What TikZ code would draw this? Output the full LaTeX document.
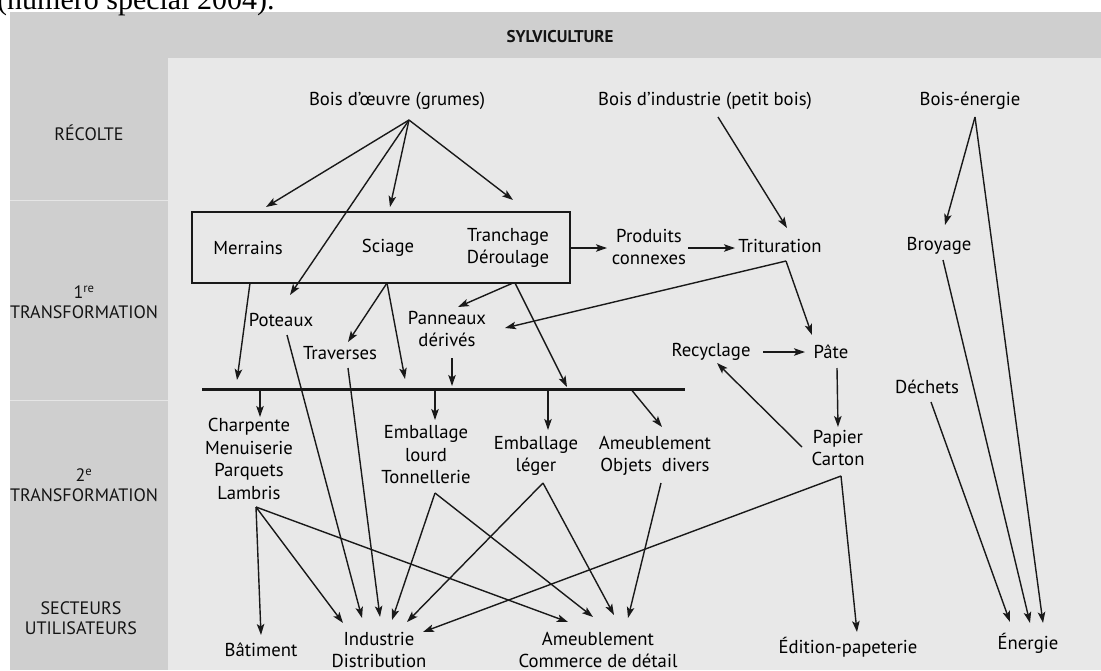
\documentclass[tikz,border=0pt]{standalone}
\usepackage{fontspec}
\setmainfont{PT Sans}
\newfontfamily\captfont{Liberation Serif}
\usetikzlibrary{arrows.meta}
\tikzset{
  txt/.style={font=\fontsize{18.7}{22.5}\selectfont, align=center, inner sep=1pt, text=black},
  lab/.style={font=\fontsize{18}{20}\selectfont, align=center, inner sep=1pt, text=black!92},
  arr/.style={-{Stealth[length=11pt,width=7.5pt,inset=2.5pt]}, line width=1.4pt, draw=black!90},
  band/.style={fill=black!19, draw=none},
}
\begin{document}
\begin{tikzpicture}[x=1pt,y=-1pt]
\useasboundingbox (0,0) rectangle (1101,670);
\clip (0,0) rectangle (1101,670);
% background
\fill[white] (0,0) rectangle (1101,670);
\fill[black!9] (10,12) rectangle (1101,670);
\fill[band] (10,12) rectangle (1101,58);
\fill[band] (10,58) rectangle (168,670);
\draw[black!10, line width=1pt] (10,200) -- (168,200);
\draw[black!10, line width=1pt] (10,400) -- (168,400);
% caption fragment
\node[anchor=base west, inner sep=0, font=\captfont\fontsize{30}{30}\selectfont] (capt) at (-3,9) {(numéro spécial 2004).};
% headers
\node[lab, font=\bfseries\fontsize{17}{20}\selectfont] (sylv) at (560,37) {SYLVICULTURE};
\node[lab] (recolte) at (89,133) {RÉCOLTE};
\node[lab] (t1) at (84,302) {1\textsuperscript{re}\\TRANSFORMATION};
\node[lab] (t2) at (84,485) {2\textsuperscript{e}\\TRANSFORMATION};
\node[lab] (secteurs) at (81,618) {SECTEURS\\UTILISATEURS};
% top sources
\node[txt] (boeuvre) at (397,101) {Bois d’œuvre (grumes)};
\node[txt] (bind) at (705,101) {Bois d’industrie (petit bois)};
\node[txt] (benergie) at (970,101) {Bois-énergie};
% box
\node[draw=black!90, line width=2.8pt, minimum width=378pt, minimum height=71pt, inner sep=0] (box) at (381,247.5) {};
\node[txt] (merrains) at (248,248) {Merrains};
\node[txt] (sciage) at (388,248) {Sciage};
\node[txt] (tranchage) at (508,248) {Tranchage\\Déroulage};
\node[txt] (produits) at (649,247) {Produits\\connexes};
\node[txt] (trituration) at (780,246) {Trituration};
\node[txt] (broyage) at (939,246) {Broyage};
\node[txt] (poteaux) at (281,320) {Poteaux};
\node[txt] (traverses) at (340,353) {Traverses};
\node[txt] (panneaux) at (447,329) {Panneaux\\dérivés};
\node[fill=black!90, minimum width=483pt, minimum height=3pt, inner sep=0] (bar) at (443.5,389) {};
\node[txt] (recyclage) at (711,352) {Recyclage};
\node[txt] (pate) at (831,352) {Pâte};
\node[txt] (dechets) at (927,387) {Déchets};
\node[txt] (charpente) at (249,459) {Charpente\\Menuiserie\\Parquets\\Lambris};
\node[txt] (emblourd) at (426,455) {Emballage\\lourd\\Tonnellerie};
\node[txt] (embleger) at (536,456) {Emballage\\léger};
\node[txt] (ameub) at (655,456) {Ameublement\\Objets\ \ divers};
\node[txt] (papier) at (838,448) {Papier\\Carton};
\node[txt] (batiment) at (261,650) {Bâtiment};
\node[txt] (industrie) at (379,650) {Industrie\\Distribution};
\node[txt] (ameubcom) at (598,650) {Ameublement\\Commerce de détail};
\node[txt] (edition) at (848,647) {Édition-papeterie};
\node[txt] (energie) at (1028,643) {Énergie};
% arrows
\draw[arr] ([shift={(12,19)}]boeuvre.center) -- ([shift={(-115,-40.5)}]box.center);
\draw[arr] ([shift={(12,19)}]boeuvre.center) -- ([shift={(9,-40.5)}]box.center);
\draw[arr] ([shift={(12,19)}]boeuvre.center) -- ([shift={(132,-47.5)}]box.center);
\draw[arr] ([shift={(12,19)}]boeuvre.center) -- ([shift={(9,-25)}]poteaux.center);
\draw[arr] ([shift={(-131,35.5)}]box.center) -- ([shift={(-206.5,-9)}]bar.center);
\draw[arr] ([shift={(6,35.5)}]box.center) -- ([shift={(8,-11)}]traverses.center);
\draw[arr] ([shift={(6,35.5)}]box.center) -- ([shift={(-38.5,-10)}]bar.center);
\draw[arr] ([shift={(132,35.5)}]box.center) -- ([shift={(11,-22)}]panneaux.center);
\draw[arr] ([shift={(134,35.5)}]box.center) -- ([shift={(123.5,-2)}]bar.center);
\draw[arr] ([shift={(190,0.5)}]box.center) -- ([shift={(-42,1)}]produits.center);
\draw[arr] ([shift={(39,1)}]produits.center) -- ([shift={(-45,2)}]trituration.center);
\draw[arr] ([shift={(13,16)}]bind.center) -- ([shift={(7,-18)}]trituration.center);
\draw[arr] ([shift={(6,15)}]trituration.center) -- ([shift={(58,-1)}]panneaux.center);
\draw[arr] ([shift={(6,15)}]trituration.center) -- ([shift={(-19,-17)}]pate.center);
\draw[arr] ([shift={(5,16)}]benergie.center) -- ([shift={(6,-21)}]broyage.center);
\draw[arr] ([shift={(5,16)}]benergie.center) -- ([shift={(15,-20)}]energie.center);
\draw[arr] ([shift={(4,14)}]broyage.center) -- ([shift={(2,-20)}]energie.center);
\draw[arr] ([shift={(4,15)}]dechets.center) -- ([shift={(-18,-21)}]energie.center);
\draw[arr] ([shift={(52,0)}]recyclage.center) -- ([shift={(-26,0)}]pate.center);
\draw[arr] ([shift={(6,16)}]pate.center) -- ([shift={(0,-21)}]papier.center);
\draw[arr] ([shift={(-36,-1)}]papier.center) -- ([shift={(6,11)}]recyclage.center);
\draw[arr] ([shift={(3,28)}]papier.center) -- ([shift={(9,-15)}]edition.center);
\draw[arr] ([shift={(3,28)}]papier.center) -- ([shift={(44,-18)}]industrie.center);
\draw[arr] ([shift={(5,29)}]panneaux.center) -- ([shift={(8.5,-3)}]bar.center);
\draw[arr] ([shift={(-183.5,1.5)}]bar.center) -- ([shift={(11,-42)}]charpente.center);
\draw[arr] ([shift={(-8.5,1.5)}]bar.center) -- ([shift={(9,-35)}]emblourd.center);
\draw[arr] ([shift={(104.5,1.5)}]bar.center) -- ([shift={(12,-26)}]embleger.center);
\draw[arr] ([shift={(188.5,1.5)}]bar.center) -- ([shift={(7,-29)}]ameub.center);
\draw[arr] ([shift={(6,15)}]poteaux.center) -- ([shift={(-17,-32)}]industrie.center);
\draw[arr] ([shift={(8,15)}]traverses.center) -- ([shift={(1,-33)}]industrie.center);
\draw[arr] ([shift={(7,48)}]charpente.center) -- ([shift={(0,-15)}]batiment.center);
\draw[arr] ([shift={(7,48)}]charpente.center) -- ([shift={(-36,-27)}]industrie.center);
\draw[arr] ([shift={(7,48)}]charpente.center) -- ([shift={(-30,-28)}]ameubcom.center);
\draw[arr] ([shift={(9,38)}]emblourd.center) -- ([shift={(13,-30)}]industrie.center);
\draw[arr] ([shift={(9,38)}]emblourd.center) -- ([shift={(-5,-33)}]ameubcom.center);
\draw[arr] ([shift={(7,27)}]embleger.center) -- ([shift={(28,-28)}]industrie.center);
\draw[arr] ([shift={(7,27)}]embleger.center) -- ([shift={(16,-35)}]ameubcom.center);
\draw[arr] ([shift={(6,27)}]ameub.center) -- ([shift={(30,-32)}]ameubcom.center);
\end{tikzpicture}
\end{document}
